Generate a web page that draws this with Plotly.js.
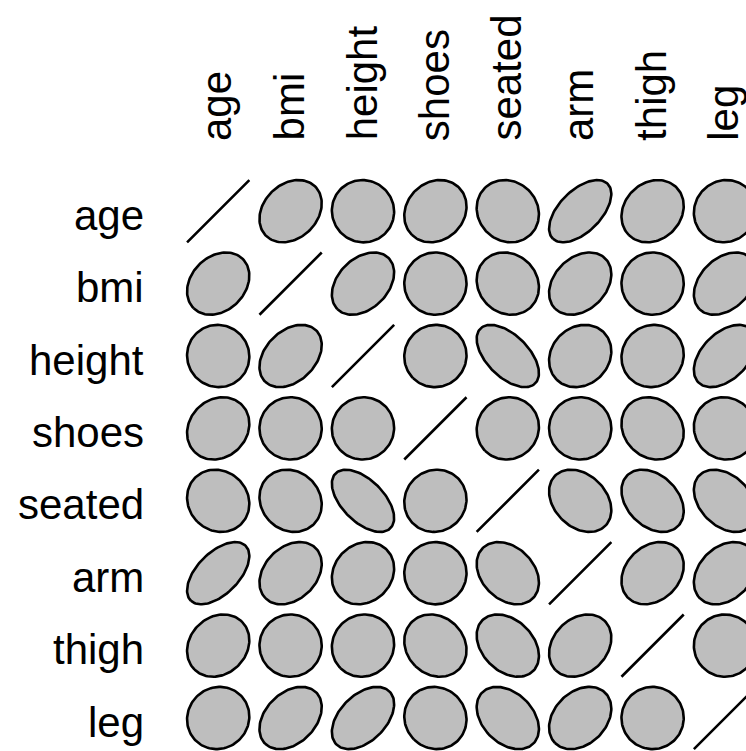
<!DOCTYPE html>
<html><head><meta charset="utf-8">
<script src="https://cdn.plot.ly/plotly-3.0.1.min.js"></script>
<style>html,body{margin:0;padding:0;background:#fff}</style>
</head><body><div id="chart" style="width:746px;height:751px"></div>
<script>
const labels = ['age','bmi','height','shoes','seated','arm','thigh','leg'];
const corrAge    = [ 1.00,  0.25, -0.02,  0.15, -0.10,  0.55,  0.17,  0.05];
const corrBmi    = [ 0.25,  1.00,  0.35,  0.00, -0.12,  0.30,  0.00,  0.35];
const corrHeight = [-0.02,  0.35,  1.00,  0.02, -0.55,  0.15,  0.05,  0.45];
const corrShoes  = [ 0.15,  0.00,  0.02,  1.00,  0.05,  0.00, -0.15, -0.05];
const corrSeated = [-0.10, -0.12, -0.55,  0.05,  1.00, -0.30, -0.33, -0.35];
const corrArm    = [ 0.55,  0.30,  0.15,  0.00, -0.30,  1.00,  0.25,  0.30];
const corrThigh  = [ 0.17,  0.00,  0.05, -0.15, -0.33,  0.25,  1.00,  0.00];
const corrLeg    = [ 0.05,  0.35,  0.45, -0.05, -0.35,  0.30,  0.00,  1.00];
const corr = [corrAge, corrBmi, corrHeight, corrShoes, corrSeated, corrArm, corrThigh, corrLeg];

const T = 0.43, NPTS = 120;
const traces = [];
for (let i = 0; i < corr.length; i++) {
  for (let j = 0; j < corr[i].length; j++) {
    const r = Math.max(-1, Math.min(1, corr[i][j]));
    const d = Math.acos(r);
    const xs = [], ys = [];
    for (let k = 0; k <= NPTS; k++) {
      const a = -Math.PI + 2 * Math.PI * k / NPTS;
      xs.push(j + 1 + T * Math.cos(a + d / 2));
      ys.push(i + 1 - T * Math.cos(a - d / 2));
    }
    traces.push({
      type: 'scatter', mode: 'lines', x: xs, y: ys,
      fill: r >= 0.999 ? 'none' : 'toself', fillcolor: '#bebebe',
      line: {color: '#000000', width: 2.6},
      hoverinfo: 'skip', showlegend: false
    });
  }
}

const W = 746, H = 751, ML = 182, MT = 175, UNIT = 72.4;
const xr = [0.5, 0.5 + (W - ML) / UNIT];
const yr = [0.5 + (H - MT) / UNIT, 0.5];
const fnt = {family: 'Liberation Sans, Arial, Helvetica, sans-serif', size: 42, color: '#000'};
const annotations = [];
labels.forEach((lab, i) => {
  annotations.push({
    text: lab, xref: 'paper', yref: 'y', x: -0.5 / (xr[1] - xr[0]), y: i + 1,
    xanchor: 'right', yanchor: 'middle', yshift: -4, showarrow: false, font: fnt
  });
  annotations.push({
    text: lab, xref: 'x', yref: 'paper', x: i + 1, y: 1 + 0.5 / (yr[0] - yr[1]),
    xanchor: 'center', yanchor: 'bottom', yshift: -4, xshift: -1, textangle: -90, showarrow: false, font: fnt
  });
});

const layout = {
  width: W, height: H,
  margin: {l: ML, r: 0, t: MT, b: 0, pad: 0},
  paper_bgcolor: '#ffffff', plot_bgcolor: '#ffffff',
  xaxis: {range: xr, visible: false, fixedrange: true},
  yaxis: {range: yr, visible: false, fixedrange: true},
  annotations: annotations,
  showlegend: false
};
Plotly.newPlot('chart', traces, layout, {displayModeBar: false, staticPlot: true});
</script>
</body></html>
